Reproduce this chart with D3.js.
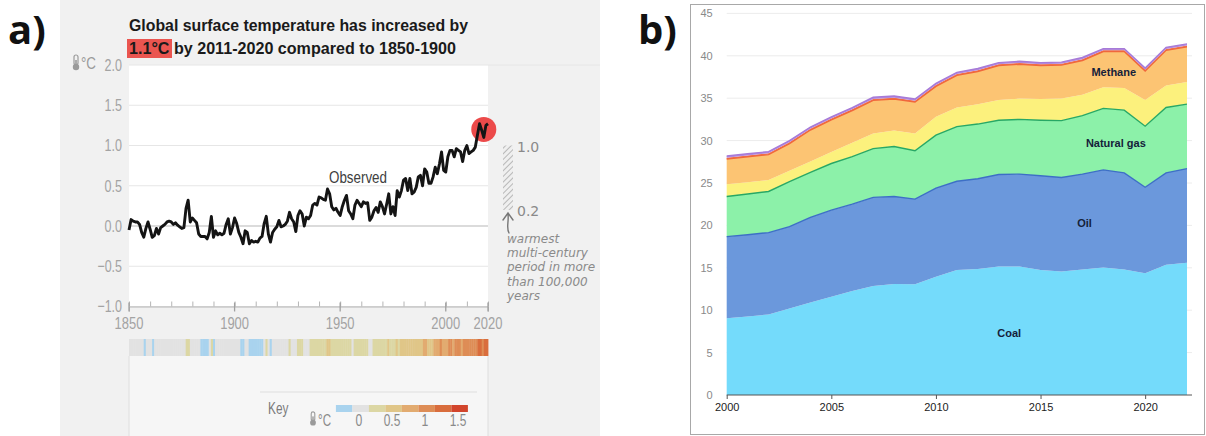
<!DOCTYPE html>
<html><head><meta charset="utf-8">
<script src="https://cdn.jsdelivr.net/npm/d3@7"></script>
<style>
body{margin:0;background:#fff;}
svg{display:block}
</style></head><body>
<svg id="c" width="1206" height="436"></svg>
<script>
// ---------- Panel a: global surface temperature anomaly (°C vs 1850-1900) ----------
const tempYears = d3.range(1850, 2021);
const tempAnomaly = [
  -0.05, 0.08, 0.06, 0.05, 0.05, 0.02, -0.08, -0.14, -0.03, 0.05,
  -0.04, -0.14, -0.12, -0.03, -0.10, -0.02, 0.00, 0.02, 0.05, 0.06,
  0.05, 0.02, 0.04, 0.01, -0.01, -0.03, -0.02, 0.22, 0.32, 0.05,
  0.10, 0.07, 0.04, -0.10, -0.13, -0.13, -0.13, -0.16, -0.08, 0.12,
  -0.14, -0.06, -0.11, -0.09, -0.11, -0.09, 0.02, 0.09, -0.10, -0.02,
  0.10, 0.03, -0.08, -0.14, -0.22, -0.06, -0.08, -0.22, -0.18, -0.20,
  -0.19, -0.20, -0.15, -0.13, 0.03, 0.12, -0.10, -0.20, -0.08, -0.04,
  -0.01, 0.07, -0.01, 0.00, 0.02, 0.06, 0.17, 0.09, 0.05, -0.07,
  0.13, 0.19, 0.15, 0.00, 0.11, 0.09, 0.13, 0.26, 0.28, 0.26,
  0.36, 0.35, 0.33, 0.32, 0.46, 0.40, 0.24, 0.20, 0.22, 0.17,
  0.13, 0.24, 0.32, 0.38, 0.19, 0.15, 0.09, 0.26, 0.32, 0.28,
  0.24, 0.30, 0.28, 0.29, 0.07, 0.11, 0.19, 0.23, 0.17, 0.30,
  0.24, 0.15, 0.27, 0.40, 0.15, 0.24, 0.13, 0.44, 0.36, 0.44,
  0.57, 0.59, 0.44, 0.59, 0.40, 0.42, 0.48, 0.61, 0.63, 0.50,
  0.71, 0.67, 0.53, 0.53, 0.61, 0.73, 0.65, 0.77, 0.92, 0.69,
  0.67, 0.86, 0.94, 0.94, 0.86, 0.96, 0.94, 0.92, 0.80, 0.94,
  1.00, 0.90, 0.92, 0.94, 0.98, 1.13, 1.27, 1.19, 1.10, 1.25,
  1.27
];
const tempTicks = [-1.0, -0.5, 0.0, 0.5, 1.0, 1.5, 2.0];
const yearLabels = [1850, 1900, 1950, 2000, 2020];
const highlightYear = 2018;
const highlightValue = 1.2;
const warmRange = [0.2, 1.0];
const warmNote = ["warmest", "multi-century", "period in more", "than 100,000", "years"];
// Colour bins for the stripes and the key
const stripeBreaks = [-0.12, 0.12, 0.4, 0.65, 0.9, 1.15, 1.4];
const stripeColors = ["#a9d3ee", "#e2e2e2", "#dcd7a4", "#e0c688", "#e2ab70", "#de8d56", "#d96d3d", "#d2452c"];
const keyEdges = [-0.35, -0.1, 0.15, 0.4, 0.65, 0.9, 1.15, 1.4, 1.65];
const keyLabels = [0, 0.5, 1, 1.5];

// ---------- Panel b: emissions by source ----------
const emisYears = d3.range(2000, 2023);
const coal    = [9.05, 9.25, 9.5, 10.2, 10.9, 11.6, 12.25, 12.85, 13.1, 13.05, 13.95, 14.75, 14.85, 15.15, 15.15, 14.75, 14.55, 14.8, 15.05, 14.8, 14.35, 15.35, 15.6];
const oil     = [9.62, 9.65, 9.65, 9.65, 10.05, 10.2, 10.25, 10.45, 10.3, 10.05, 10.45, 10.45, 10.65, 10.85, 10.9, 11.1, 11.1, 11.25, 11.5, 11.4, 10.15, 10.85, 11.1];
const gas     = [4.73, 4.8, 4.85, 5.3, 5.3, 5.5, 5.6, 5.75, 5.9, 5.7, 6.25, 6.45, 6.45, 6.4, 6.45, 6.55, 6.7, 6.9, 7.25, 7.4, 7.2, 7.7, 7.6];
const cement  = [1.45, 1.4, 1.35, 1.3, 1.3, 1.35, 1.65, 1.8, 1.9, 2.05, 2.15, 2.25, 2.35, 2.4, 2.45, 2.5, 2.6, 2.45, 2.5, 2.6, 3.1, 2.6, 2.6];
const methane = [2.98, 3.0, 3.0, 3.2, 3.7, 3.8, 3.8, 3.9, 3.7, 3.7, 3.6, 3.8, 3.85, 4.05, 4.05, 3.95, 3.95, 4.05, 4.2, 4.3, 3.4, 4.15, 4.15];
const flaring = [0.15, 0.15, 0.15, 0.15, 0.15, 0.15, 0.15, 0.16, 0.16, 0.15, 0.15, 0.15, 0.15, 0.15, 0.15, 0.15, 0.15, 0.15, 0.15, 0.15, 0.15, 0.15, 0.15];
const other   = [0.2, 0.2, 0.2, 0.2, 0.2, 0.2, 0.2, 0.2, 0.2, 0.2, 0.2, 0.2, 0.2, 0.2, 0.2, 0.2, 0.2, 0.2, 0.2, 0.2, 0.2, 0.2, 0.2];
const emisTicks = [0, 5, 10, 15, 20, 25, 30, 35, 40, 45];
const emisYearTicks = [2000, 2005, 2010, 2015, 2020];
const seriesKeys = ["coal", "oil", "gas", "cement", "methane", "flaring", "other"];
const seriesFill = {coal: "#74dbfb", oil: "#6b98dc", gas: "#8cf1a9", cement: "#fcf17d", methane: "#fcc473", flaring: "#f4794a", other: "#b58ade"};
const seriesEdge = {oil: "#3d6fc6", gas: "#27a866", methane: "#f0673c", other: "#a67bd8"};
const seriesLabels = [
  {key: "coal", text: "Coal", year: 2013.5},
  {key: "oil", text: "Oil", year: 2017.1},
  {key: "gas", text: "Natural gas", year: 2018.6},
  {key: "methane", text: "Methane", year: 2018.5}
];

const sans = "'Liberation Sans',Arial,sans-serif";
const svg = d3.select("#c");

// condensed look for the panel-a labels: fixed advance per glyph
function narrowWidth(s, digit = 7.2) {
  return [...String(s)].reduce((w, c) => w + (c === "." ? 3 : c === "," ? 3 : digit), 0);
}
function narrowText(sel, size = 17, digit = 7.2) {
  sel.attr("font-family", sans).attr("font-size", size)
    .attr("textLength", function () { return narrowWidth(this.textContent, digit); })
    .attr("lengthAdjust", "spacingAndGlyphs");
}

// ================= Panel a =================
svg.append("rect").attr("x", 60).attr("y", 0).attr("width", 540).attr("height", 436).attr("fill", "#f1f1f1");

const xA = d3.scaleLinear().domain([1850, 2020]).range([129, 488]);
const yA = d3.scaleLinear().domain([-1, 2]).range([306.5, 65]);

// plot background
svg.append("rect").attr("x", xA(1850)).attr("y", yA(2)).attr("width", xA(2020) - xA(1850))
  .attr("height", yA(-1) - yA(2)).attr("fill", "#ffffff");
// area below the stripes
svg.append("rect").attr("x", xA(1850)).attr("y", 356).attr("width", xA(2020) - xA(1850))
  .attr("height", 80).attr("fill", "#f6f6f6");

// panel letters
svg.append("text").attr("x", 8).attr("y", 44).text("a)")
  .attr("font-family", "'Open Sans',sans-serif").attr("font-weight", 700).attr("font-size", 40).attr("fill", "#111");
svg.append("text").attr("x", 638).attr("y", 44).text("b)")
  .attr("font-family", "'Open Sans',sans-serif").attr("font-weight", 700).attr("font-size", 40).attr("fill", "#111");

// title
svg.append("rect").attr("x", 127).attr("y", 39).attr("width", 45).attr("height", 19).attr("fill", "#ea5550");
const titleG = svg.append("g").attr("font-family", "'Liberation Sans',Arial,sans-serif")
  .attr("font-weight", 700).attr("font-size", 16.5).attr("fill", "#1a1a1a");
titleG.append("text").attr("x", 129).attr("y", 31).text("Global surface temperature has increased by")
  .attr("textLength", 339).attr("lengthAdjust", "spacingAndGlyphs");
const t2 = titleG.append("text").attr("x", 129).attr("y", 54).attr("textLength", 327).attr("lengthAdjust", "spacingAndGlyphs");
t2.append("tspan").text("1.1°C");
t2.append("tspan").text(" by 2011-2020 compared to 1850-1900");

// gridlines
const gridA = svg.append("g");
gridA.selectAll("line").data(tempTicks).join("line")
  .attr("x1", xA(1850)).attr("x2", d => d === 2 ? 600 : xA(2020))
  .attr("y1", d => yA(d)).attr("y2", d => yA(d))
  .attr("stroke", d => d === 0 ? "#cfcfcf" : "#e6e6e6").attr("stroke-width", d => d === 0 ? 1.5 : 1);

// y axis labels
const yAxisA = d3.axisLeft(yA).tickValues(tempTicks).tickFormat(d3.format(".1f")).tickSize(0).tickPadding(7);
const gYA = svg.append("g").attr("transform", `translate(${xA(1850)},0)`).call(yAxisA);
gYA.select(".domain").remove();
gYA.selectAll("text").attr("fill", "#a3a3a3").call(narrowText);

// thermometer glyph
function thermo(g, x, y, s) {
  const t = g.append("g").attr("transform", `translate(${x},${y}) scale(${s})`).attr("fill", "#9a9a9a");
  t.append("rect").attr("x", -2).attr("y", -9).attr("width", 4).attr("height", 10).attr("rx", 2)
    .attr("fill", "none").attr("stroke", "#9a9a9a").attr("stroke-width", 1.2);
  t.append("circle").attr("cx", 0).attr("cy", 3).attr("r", 3.2);
  t.append("rect").attr("x", -0.8).attr("y", -4).attr("width", 1.6).attr("height", 6);
}
thermo(svg, 76, 64, 1);
svg.append("text").attr("x", 81).attr("y", 69).text("°C").attr("fill", "#9a9a9a").call(narrowText, 16, 7.5);

// x axis
const xAxisA = d3.axisBottom(xA).tickValues(d3.range(1850, 2021, 10)).tickSize(5).tickFormat("");
const gXA = svg.append("g").attr("transform", `translate(0,${yA(-1)})`).call(xAxisA);
gXA.select(".domain").attr("stroke", "#b5b5b5");
gXA.selectAll(".tick line").attr("stroke", "#b5b5b5").attr("y1", -5).attr("y2", 0);
svg.append("g").selectAll("line").data(yearLabels).join("line")
  .attr("x1", d => xA(d)).attr("x2", d => xA(d)).attr("y1", yA(-1) - 4).attr("y2", yA(-1) + 5)
  .attr("stroke", "#a0a0a0").attr("stroke-width", 1.3);
svg.append("g").selectAll("text").data(yearLabels).join("text")
  .attr("x", d => xA(d)).attr("y", 329).attr("text-anchor", "middle").text(d => d)
  .attr("fill", "#a3a3a3").call(narrowText);

// highlight circle
svg.append("circle").attr("cx", xA(highlightYear)).attr("cy", yA(highlightValue)).attr("r", 12.5).attr("fill", "#ec4a4a");

// temperature line
const tempData = tempYears.map((y, i) => ({year: y, v: tempAnomaly[i]}));
svg.append("path").datum(tempData)
  .attr("d", d3.line().x(d => xA(d.year)).y(d => yA(d.v)))
  .attr("fill", "none").attr("stroke", "#141414").attr("stroke-width", 2.9).attr("stroke-linejoin", "round");

svg.append("text").attr("x", 358).attr("y", 183).attr("text-anchor", "middle").text("Observed")
  .attr("font-family", sans).attr("font-size", 17).attr("fill", "#404040")
  .attr("textLength", 58).attr("lengthAdjust", "spacingAndGlyphs");

// warm-period hatched bar
const defs = svg.append("defs");
const pat = defs.append("pattern").attr("id", "hatch").attr("patternUnits", "userSpaceOnUse")
  .attr("width", 4).attr("height", 4).attr("patternTransform", "rotate(45)");
pat.append("rect").attr("width", 4).attr("height", 4).attr("fill", "#efefef");
pat.append("line").attr("x1", 0).attr("y1", 0).attr("x2", 0).attr("y2", 4).attr("stroke", "#b8b8b8").attr("stroke-width", 2);
svg.append("rect").attr("x", 503).attr("y", yA(warmRange[1])).attr("width", 10)
  .attr("height", yA(warmRange[0]) - yA(warmRange[1])).attr("fill", "url(#hatch)");
svg.append("g").selectAll("text").data(warmRange).join("text")
  .attr("x", 517).attr("y", d => yA(d) + 6).text(d => d3.format(".1f")(d))
  .attr("font-family", "'DejaVu Sans',sans-serif").attr("font-size", 14).attr("fill", "#8a8a8a");
svg.append("path").attr("d", "M509,233 C506,228 509,222 508,214 M503,220 L508,213 L513,220")
  .attr("fill", "none").attr("stroke", "#777").attr("stroke-width", 1.4).attr("stroke-linecap", "round");
svg.append("g").selectAll("text").data(warmNote).join("text")
  .attr("x", 507).attr("y", (d, i) => 243 + i * 14.2).text(d => d)
  .attr("font-family", "'DejaVu Sans',sans-serif").attr("font-style", "italic").attr("font-size", 12).attr("fill", "#8a8a8a");

// warming stripes
const stripeColor = d3.scaleThreshold().domain(stripeBreaks).range(stripeColors);
const xBand = d3.scaleBand().domain(tempYears).range([xA(1850), xA(2020)]);
svg.append("g").selectAll("rect").data(tempData).join("rect")
  .attr("x", d => xBand(d.year)).attr("y", 339).attr("width", xBand.bandwidth() + 0.4).attr("height", 17)
  .attr("fill", d => stripeColor(d.v));
svg.append("g").selectAll("line").data([1850, 2020]).join("line")
  .attr("x1", d => xA(d)).attr("x2", d => xA(d)).attr("y1", 356).attr("y2", 436).attr("stroke", "#dedede");

// key
svg.append("line").attr("x1", 260).attr("x2", 477).attr("y1", 392).attr("y2", 392).attr("stroke", "#dedede");
svg.append("text").attr("x", 268).attr("y", 414).text("Key").attr("fill", "#7a7a7a").call(narrowText, 17, 6.8);
const xKey = d3.scaleLinear().domain([0, 1.5]).range([359, 458]);
svg.append("g").selectAll("rect").data(d3.pairs(keyEdges)).join("rect")
  .attr("x", d => xKey(d[0])).attr("width", d => xKey(d[1]) - xKey(d[0])).attr("y", 405).attr("height", 7)
  .attr("fill", d => stripeColor((d[0] + d[1]) / 2));
svg.append("g").selectAll("text").data(keyLabels).join("text")
  .attr("x", d => xKey(d)).attr("y", 426).attr("text-anchor", "middle").text(d => d)
  .attr("fill", "#8a8a8a").call(narrowText, 17, 6.8);
thermo(svg, 313, 420, 0.9);
svg.append("text").attr("x", 318).attr("y", 426).text("°C").attr("fill", "#8a8a8a").call(narrowText, 16, 6.5);

// ================= Panel b =================
svg.append("rect").attr("x", 690.5).attr("y", 4.5).attr("width", 514).attr("height", 430)
  .attr("fill", "#ffffff").attr("stroke", "#a8a8a8");

const xB = d3.scaleLinear().domain([2000, 2022]).range([726.7, 1187]);
const yB = d3.scaleLinear().domain([0, 45]).range([395, 13.4]);

svg.append("g").selectAll("line").data(emisTicks.filter(d => d > 0)).join("line")
  .attr("x1", xB(2000)).attr("x2", 1192).attr("y1", d => yB(d)).attr("y2", d => yB(d))
  .attr("stroke", "#ececec");

const rows = emisYears.map((y, i) => ({year: y, coal: coal[i], oil: oil[i], gas: gas[i], cement: cement[i],
  methane: methane[i], flaring: flaring[i], other: other[i]}));
const stacked = d3.stack().keys(seriesKeys)(rows);
const area = d3.area().x(d => xB(d.data.year)).y0(d => yB(d[0])).y1(d => yB(d[1]));
const topLine = d3.line().x(d => xB(d.data.year)).y(d => yB(d[1]));

svg.append("g").selectAll("path").data(stacked).join("path")
  .attr("d", area).attr("fill", d => seriesFill[d.key]);
svg.append("g").selectAll("path").data(stacked.filter(s => seriesEdge[s.key])).join("path")
  .attr("d", topLine).attr("fill", "none").attr("stroke", d => seriesEdge[d.key]).attr("stroke-width", 1.4);

// layer labels, centred in their band
const byKey = Object.fromEntries(stacked.map(s => [s.key, s]));
svg.append("g").selectAll("text").data(seriesLabels).join("text")
  .attr("x", d => xB(d.year))
  .attr("y", d => {
    const s = byKey[d.key];
    const i0 = Math.floor(d.year - 2000), f = d.year - 2000 - i0;
    const mid = p => (p[0] + p[1]) / 2;
    const m = mid(s[i0]) * (1 - f) + mid(s[Math.min(i0 + 1, s.length - 1)]) * f;
    return yB(m) + 6;
  })
  .attr("text-anchor", "middle").text(d => d.text)
  .attr("font-family", sans).attr("font-weight", 700).attr("font-size", 11).attr("fill", "#14213a");

// axes
const gYB = svg.append("g").attr("transform", `translate(${xB(2000) - 14},0)`)
  .call(d3.axisLeft(yB).tickValues(emisTicks).tickSize(0).tickPadding(0));
gYB.select(".domain").remove();
gYB.selectAll("text").attr("font-family", sans).attr("font-size", 11).attr("fill", "#8a8a8a");

const gXB = svg.append("g").attr("transform", `translate(0,${yB(0)})`)
  .call(d3.axisBottom(xB).tickValues(emisYearTicks).tickFormat(d3.format("d")).tickSize(4).tickPadding(4));
gXB.select(".domain").attr("d", `M${xB(2000)},0H1192`).attr("stroke", "#555");
gXB.selectAll(".tick line").attr("stroke", "#555");
gXB.selectAll("text").attr("font-family", sans).attr("font-size", 11).attr("fill", "#222");
</script></body></html>
